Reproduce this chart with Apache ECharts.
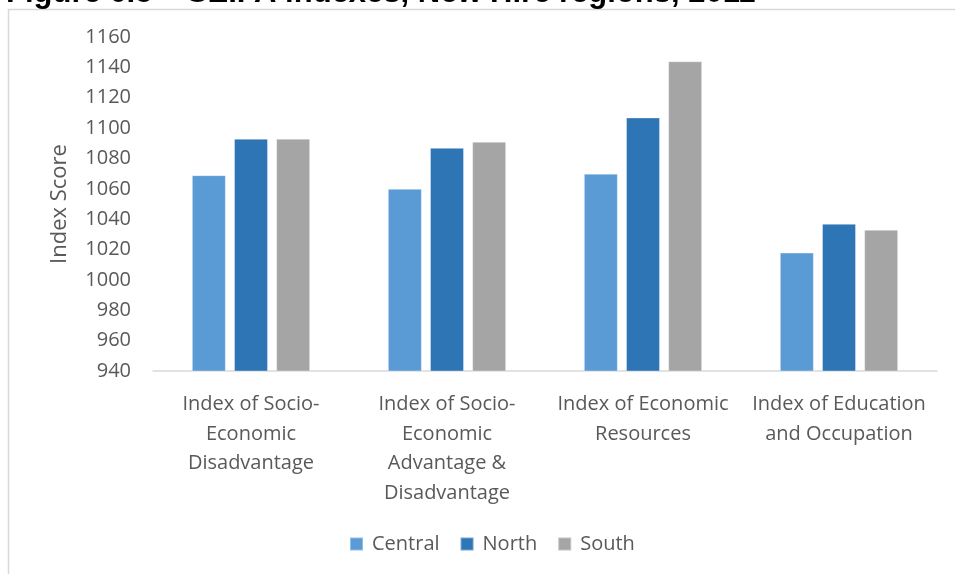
<!DOCTYPE html>
<html>
<head>
<meta charset="utf-8">
<script src="https://cdn.jsdelivr.net/npm/echarts@6/dist/echarts.min.js"></script>
<style>
  html, body { margin: 0; padding: 0; background: #fff; }
  #chart { width: 955px; height: 574px; }
</style>
</head>
<body>
<div id="chart"></div>
<script>
// SEIFA index scores by region
const categories = [
  'Index of Socio-\nEconomic\nDisadvantage',
  'Index of Socio-\nEconomic\nAdvantage &\nDisadvantage',
  'Index of Economic\nResources',
  'Index of Education\nand Occupation'
];
const centralScores = [1069, 1060, 1070, 1018];
const northScores   = [1093, 1087, 1107, 1037];
const southScores   = [1093, 1091, 1144, 1033];
const yTicks = { min: 940, max: 1160, step: 20 };

const textColor = '#595959';
const font = '"Open Sans", sans-serif';

const chart = echarts.init(document.getElementById('chart'), null, { renderer: 'canvas' });

function barSeries(name, data, color) {
  return {
    name: name,
    type: 'bar',
    data: data,
    barWidth: 34,
    barGap: '24%',
    itemStyle: { color: color, borderColor: 'rgba(255,255,255,0.35)', borderWidth: 1 }
  };
}

chart.setOption({
  animation: false,
  backgroundColor: '#ffffff',
  graphic: [
    {
      type: 'rect',
      shape: { x: 8.5, y: 9.5, width: 1000, height: 600 },
      style: { fill: 'none', stroke: '#d9d9d9', lineWidth: 1.5 },
      silent: true
    },
    {
      type: 'text',
      x: 6,
      y: 9,
      style: {
        text: 'Figure 6.5 \u2013 SEIFA indexes, New Hire regions, 2011',
        font: 'bold 31px "Liberation Sans", Arial, sans-serif',
        fill: '#000',
        verticalAlign: 'bottom'
      }
    }
  ],
  grid: { left: 153, right: 18, top: 37, bottom: 203 },
  legend: {
    bottom: 15,
    left: 344,
    itemWidth: 13,
    itemHeight: 13,
    itemGap: 20,
    icon: 'rect',
    textStyle: { color: textColor, fontSize: 20, fontFamily: font, padding: [0, 0, 0, 4] },
    data: ['Central', 'North', 'South']
  },
  xAxis: {
    type: 'category',
    data: categories,
    axisLine: { lineStyle: { color: '#d9d9d9', width: 1.5 } },
    axisTick: { show: false },
    axisLabel: {
      color: textColor,
      fontSize: 20,
      fontFamily: font,
      lineHeight: 29.5,
      margin: 19,
      interval: 0,
      verticalAlign: 'top'
    }
  },
  yAxis: {
    type: 'value',
    min: yTicks.min,
    max: yTicks.max,
    interval: yTicks.step,
    name: 'Index Score',
    nameLocation: 'middle',
    nameGap: 82,
    nameRotate: 90,
    nameTextStyle: { color: textColor, fontSize: 22, fontFamily: font },
    axisLine: { show: false },
    axisTick: { show: false },
    splitLine: { show: false },
    axisLabel: {
      color: textColor,
      fontSize: 20,
      fontFamily: font,
      margin: 22,
      formatter: (v) => String(v)
    }
  },
  series: [
    barSeries('Central', centralScores, '#5B9BD5'),
    barSeries('North', northScores, '#2E75B6'),
    barSeries('South', southScores, '#A5A5A5')
  ]
});
</script>
</body>
</html>
